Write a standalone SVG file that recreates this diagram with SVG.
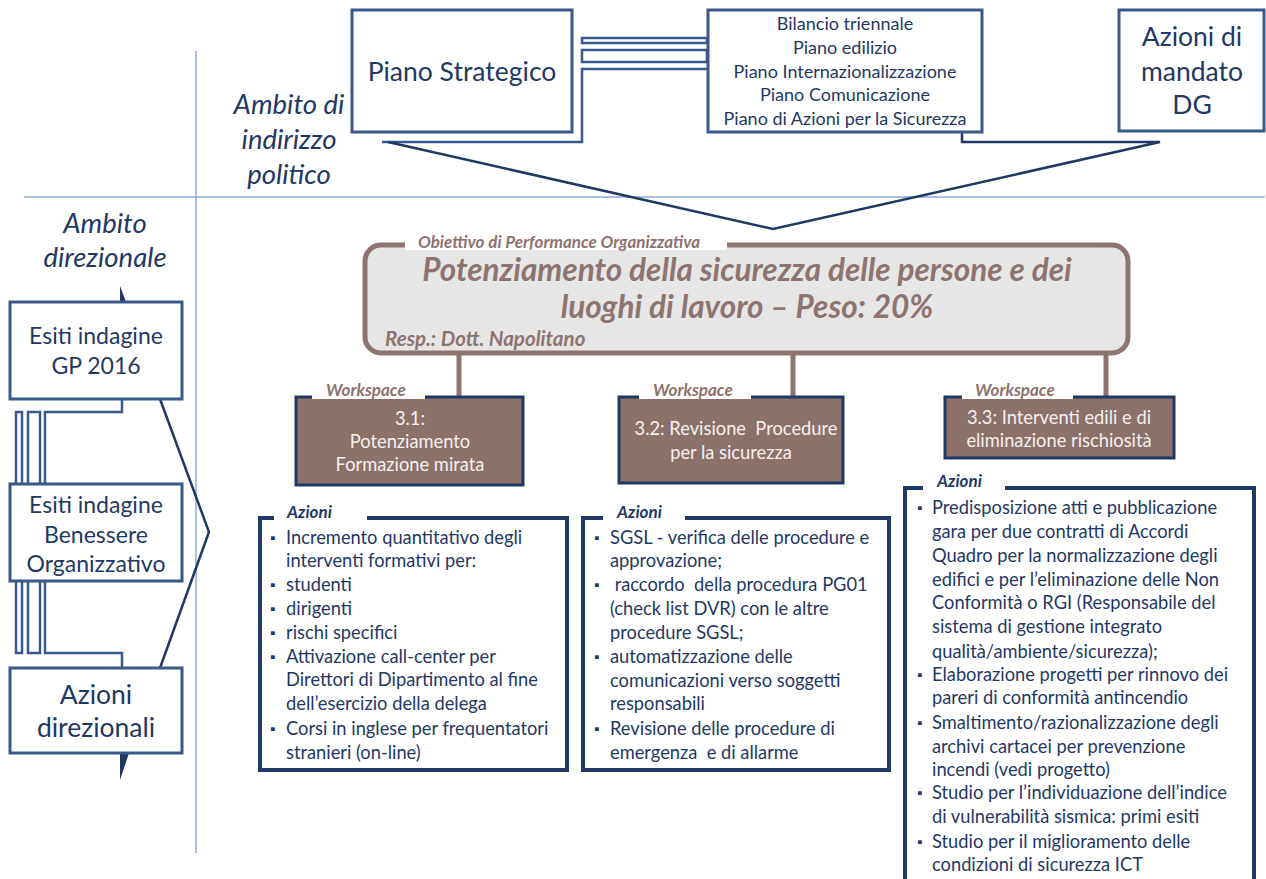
<svg xmlns="http://www.w3.org/2000/svg" width="1266" height="879" viewBox="0 0 1266 879">
<style>
text{font-family:Lato,"Open Sans","Liberation Sans",sans-serif;fill:#1f3864}
.mid{text-anchor:middle}
.topbox{fill:#fff;stroke:#38598a;stroke-width:3}
.guide{stroke:#8eaadb;stroke-width:1.5;fill:none}
.conn{stroke:#1f3864;stroke-width:2.5;fill:none}
.bconn{stroke:#38598a;stroke-width:2.5;fill:none}
.amb{font-style:italic;font-size:27.5px}
.big{font-size:26.5px}
.left{font-size:23px}
.small{font-size:18px}
.lbl{font-style:italic;font-weight:bold;font-size:17px;fill:#8d726e}
.ws{fill:#8c716b;stroke:#1f3864;stroke-width:3}
.wst{font-size:18.3px;fill:#f4f0ef;text-anchor:middle}
.act{fill:#fff;stroke:#1f3864;stroke-width:4}
.alab{font-style:italic;font-weight:bold;font-size:17px;fill:#1f3864}
.at{font-size:18.3px}
.bul{font-size:14px}
.brown{stroke:#8d7470;stroke-width:5;fill:none}
</style>
<rect width="1266" height="879" fill="#fff"/>
<g id="guides">
<line class="guide" x1="196" y1="51" x2="196" y2="853"/>
<line class="guide" x1="24" y1="197" x2="1265" y2="197"/>
</g>
<g id="connectors">
<rect class="bconn" x="582" y="38" width="125" height="5"/>
<rect class="bconn" x="582" y="50" width="125" height="12"/>
<path class="bconn" d="M707,69 L582,69 L582,142 L382,142"/>
<path class="conn" d="M388,142 L773,229 L1160,142 L962,142 L962,132"/>
<rect class="bconn" x="16" y="412" width="6" height="241"/>
<rect class="bconn" x="28" y="412" width="12" height="241"/>
<path class="bconn" d="M122,399 L122,412 L45,412 L45,653 L122,653 L122,668"/>
<path class="conn" d="M160,399 L209,532 L160,668"/>
<polygon points="120,286 126,302 120,302" fill="#1f3864"/>
<polygon points="120,753 129,753 120,780" fill="#1f3864"/>
<line class="brown" x1="459" y1="353" x2="459" y2="397"/>
<line class="brown" x1="793" y1="353" x2="793" y2="397"/>
<line class="brown" x1="1106" y1="353" x2="1106" y2="397"/>
</g>
<g id="labels-ambito">
<text class="amb mid" x="289" y="114">Ambito di</text>
<text class="amb mid" x="289" y="149">indirizzo</text>
<text class="amb mid" x="289" y="184">politico</text>
<text class="amb mid" x="105" y="233">Ambito</text>
<text class="amb mid" x="105" y="267">direzionale</text>
</g>
<g id="piano-strategico">
<rect class="topbox" x="352" y="10" width="220" height="122"/>
<text class="big mid" x="462" y="81">Piano Strategico</text>
</g>
<g id="piani">
<rect class="topbox" x="708" y="10" width="274" height="122"/>
<text class="small mid" x="845" y="30">Bilancio triennale</text>
<text class="small mid" x="845" y="54">Piano edilizio</text>
<text class="small mid" x="845" y="78">Piano Internazionalizzazione</text>
<text class="small mid" x="845" y="101">Piano Comunicazione</text>
<text class="small mid" x="845" y="125">Piano di Azioni per la Sicurezza</text>
</g>
<g id="azioni-mandato">
<rect class="topbox" x="1119" y="10" width="145" height="121"/>
<text class="big mid" x="1192" y="46">Azioni di</text>
<text class="big mid" x="1192" y="81">mandato</text>
<text class="big mid" x="1192" y="114">DG</text>
</g>
<g id="esiti-gp">
<rect class="topbox" x="10" y="302" width="172" height="97"/>
<text class="left mid" x="96" y="344">Esiti indagine</text>
<text class="left mid" x="96" y="374">GP 2016</text>
</g>
<g id="esiti-benessere">
<rect class="topbox" x="10" y="484" width="172" height="97"/>
<text class="left mid" x="96" y="513">Esiti indagine</text>
<text class="left mid" x="96" y="543">Benessere</text>
<text class="left mid" x="96" y="572">Organizzativo</text>
</g>
<g id="azioni-direzionali">
<rect class="topbox" x="10" y="668" width="172" height="85"/>
<text class="big mid" x="96" y="704">Azioni</text>
<text class="big mid" x="96" y="737">direzionali</text>
</g>
<g id="obiettivo">
<rect x="365" y="245" width="763" height="108" rx="16" fill="#e6e6e6" stroke="#8d7470" stroke-width="5"/>
<rect x="405" y="238" width="322" height="12" fill="#fff"/>
<text class="lbl" x="418" y="248">Obiettivo di Performance Organizzativa</text>
<text class="mid" x="747" y="281" style="font-size:31.5px;font-weight:bold;font-style:italic;fill:#8d7470">Potenziamento della sicurezza delle persone e dei</text>
<text class="mid" x="747" y="318" style="font-size:31.5px;font-weight:bold;font-style:italic;fill:#8d7470">luoghi di lavoro – Peso: 20%</text>
<text x="385" y="346" style="font-size:20.5px;font-weight:bold;font-style:italic;fill:#8d7470">Resp.: Dott. Napolitano</text>
</g>
<g id="ws-3-1">
<rect class="ws" x="296" y="397" width="227" height="88"/>
<rect x="312" y="388" width="113" height="11" fill="#fff"/>
<text class="lbl" x="326" y="396">Workspace</text>
<text class="wst" x="410" y="425">3.1:</text>
<text class="wst" x="410" y="448">Potenziamento</text>
<text class="wst" x="410" y="471">Formazione mirata</text>
</g>
<g id="ws-3-2">
<rect class="ws" x="619" y="397" width="224" height="86"/>
<rect x="639" y="388" width="112" height="11" fill="#fff"/>
<text class="lbl" x="653" y="396">Workspace</text>
<text class="wst" x="736" y="435" xml:space="preserve">3.2: Revisione  Procedure</text>
<text class="wst" x="731" y="459">per la sicurezza</text>
</g>
<g id="ws-3-3">
<rect class="ws" x="945" y="397" width="229" height="61"/>
<rect x="962" y="388" width="111" height="11" fill="#fff"/>
<text class="lbl" x="975" y="396">Workspace</text>
<text class="wst" x="1059" y="424">3.3: Interventi edili e di</text>
<text class="wst" x="1059" y="447">eliminazione rischiosità</text>
</g>
<g id="azioni-3-1">
<rect class="act" x="260" y="518" width="307" height="252"/>
<rect x="274" y="510" width="93" height="11" fill="#fff"/>
<text class="alab" x="287" y="518">Azioni</text>
<text class="at bul" x="270" y="543">▪</text><text class="at" x="286" y="544">Incremento quantitativo degli</text>
<text class="at" x="286" y="567">interventi formativi per:</text>
<text class="at bul" x="270" y="590">▪</text><text class="at" x="286" y="591">studenti</text>
<text class="at bul" x="270" y="614">▪</text><text class="at" x="286" y="615">dirigenti</text>
<text class="at bul" x="270" y="638">▪</text><text class="at" x="286" y="639">rischi specifici</text>
<text class="at bul" x="270" y="662">▪</text><text class="at" x="286" y="663">Attivazione call-center per</text>
<text class="at" x="286" y="686">Direttori di Dipartimento al fine</text>
<text class="at" x="286" y="710">dell’esercizio della delega</text>
<text class="at bul" x="270" y="734">▪</text><text class="at" x="286" y="735">Corsi in inglese per frequentatori</text>
<text class="at" x="286" y="759">stranieri (on-line)</text>
</g>
<g id="azioni-3-2">
<rect class="act" x="583" y="518" width="306" height="252"/>
<rect x="603" y="510" width="82" height="11" fill="#fff"/>
<text class="alab" x="617" y="518">Azioni</text>
<text class="at bul" x="594" y="543">▪</text><text class="at" x="610" y="544">SGSL - verifica delle procedure e</text>
<text class="at" x="610" y="567">approvazione;</text>
<text class="at bul" x="594" y="590">▪</text><text class="at" x="610" y="591" xml:space="preserve"> raccordo  della procedura PG01</text>
<text class="at" x="610" y="615">(check list DVR) con le altre</text>
<text class="at" x="610" y="639">procedure SGSL;</text>
<text class="at bul" x="594" y="662">▪</text><text class="at" x="610" y="663">automatizzazione delle</text>
<text class="at" x="610" y="687">comunicazioni verso soggetti</text>
<text class="at" x="610" y="710">responsabili</text>
<text class="at bul" x="594" y="734">▪</text><text class="at" x="610" y="735">Revisione delle procedure di</text>
<text class="at" x="610" y="759" xml:space="preserve">emergenza  e di allarme</text>
</g>
<g id="azioni-3-3">
<rect class="act" x="905" y="488" width="349" height="400"/>
<rect x="923" y="480" width="82" height="11" fill="#fff"/>
<text class="alab" x="937" y="487">Azioni</text>
<text class="at bul" x="917" y="513">▪</text><text class="at" x="932" y="514">Predisposizione atti e pubblicazione</text>
<text class="at" x="932" y="538">gara per due contratti di Accordi</text>
<text class="at" x="932" y="562">Quadro per la normalizzazione degli</text>
<text class="at" x="932" y="586">edifici e per l’eliminazione delle Non</text>
<text class="at" x="932" y="609">Conformità o RGI (Responsabile del</text>
<text class="at" x="932" y="633">sistema di gestione integrato</text>
<text class="at" x="932" y="658">qualità/ambiente/sicurezza);</text>
<text class="at bul" x="917" y="680">▪</text><text class="at" x="932" y="681">Elaborazione progetti per rinnovo dei</text>
<text class="at" x="932" y="704">pareri di conformità antincendio</text>
<text class="at bul" x="917" y="728">▪</text><text class="at" x="932" y="729">Smaltimento/razionalizzazione degli</text>
<text class="at" x="932" y="753">archivi cartacei per prevenzione</text>
<text class="at" x="932" y="776">incendi (vedi progetto)</text>
<text class="at bul" x="917" y="798">▪</text><text class="at" x="932" y="799">Studio per l’individuazione dell’indice</text>
<text class="at" x="932" y="823">di vulnerabilità sismica: primi esiti</text>
<text class="at bul" x="917" y="847">▪</text><text class="at" x="932" y="848">Studio per il miglioramento delle</text>
<text class="at" x="932" y="871">condizioni di sicurezza ICT</text>
</g>
</svg>
